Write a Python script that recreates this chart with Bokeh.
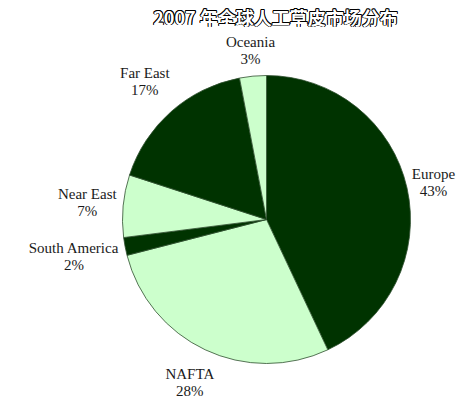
import numpy as np
from bokeh.plotting import figure
from bokeh.models import Range1d, ColumnDataSource
from bokeh.core.properties import value
from bokeh.embed import file_html
from bokeh.resources import INLINE

title = "2007 年全球人工草皮市场分布"
regions = ["Europe", "NAFTA", "South America", "Near East", "Far East", "Oceania"]
shares = [43, 28, 2, 7, 17, 3]
colors = ["#003300", "#CCFFCC", "#003300", "#CCFFCC", "#003300", "#CCFFCC"]
label_r = [171, 180, 196, 180, 184, 170]

W, H = 472, 399
cx, cy, R = 266, H - 219, 144

p = figure(width=W, height=H, output_backend="svg", toolbar_location=None,
           x_range=Range1d(0, W), y_range=Range1d(0, H), min_border=0)
p.axis.visible = False
p.grid.visible = False
p.outline_line_color = None
p.background_fill_color = "white"

frac = np.array(shares, dtype=float) / sum(shares)
cum = np.concatenate([[0], np.cumsum(frac)])
start = np.pi / 2 - cum[:-1] * 2 * np.pi
end = np.pi / 2 - cum[1:] * 2 * np.pi
mid = (start + end) / 2

src = ColumnDataSource(dict(start=start, end=end, color=colors))
p.wedge(x=cx, y=cy, radius=R, start_angle="start", end_angle="end", direction="clock",
        fill_color="color", line_color="#2f4f2f", line_width=0.8, source=src)

lx = cx + np.array(label_r) * np.cos(mid)
ly = cy + np.array(label_r) * np.sin(mid)
names_src = ColumnDataSource(dict(x=lx, y=ly + 8.5, t=regions))
pct_src = ColumnDataSource(dict(x=lx, y=ly - 8.5, t=[f"{s}%" for s in shares]))
for s in (names_src, pct_src):
    p.text(x="x", y="y", text="t", source=s, text_align="center", text_baseline="middle",
           text_font=value("Liberation Serif"), text_font_size="15px", text_color="#1a1a1a")

tx, ty = 275, H - 16
d = 0.8
for dx in (-d, 0, d):
    for dy in (-d, 0, d):
        if dx == 0 and dy == 0:
            continue
        p.text(x=[tx + dx], y=[ty + dy], text=[title], text_align="center", text_baseline="middle",
               text_font=value("Noto Sans CJK SC"), text_font_style="bold", text_font_size="18px",
               text_color="black")
p.text(x=[tx], y=[ty], text=[title], text_align="center", text_baseline="middle",
       text_font=value("Noto Sans CJK SC"), text_font_style="bold", text_font_size="18px",
       text_color="white")

open("out.html", "w").write(file_html(p, INLINE))
